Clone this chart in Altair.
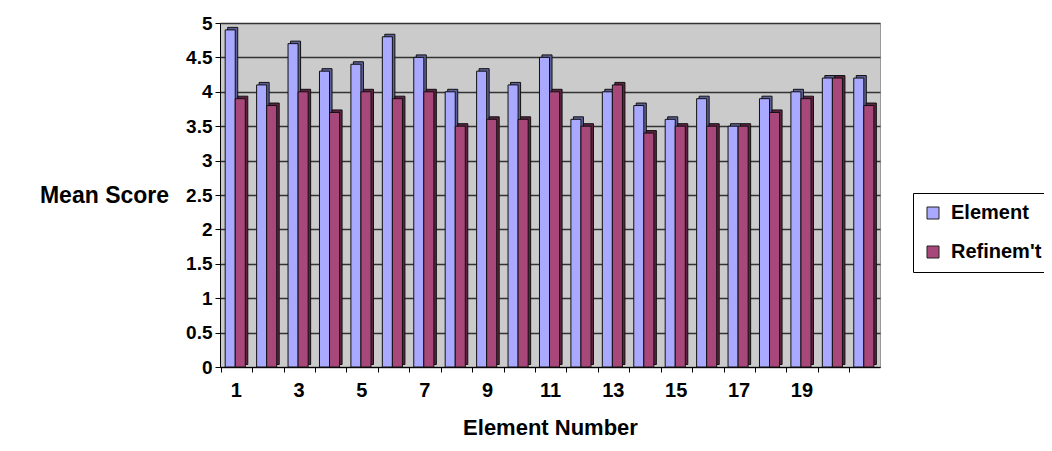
import altair as alt
import pandas as pd

elements = list(range(1, 23))
element_scores = [4.9, 4.1, 4.7, 4.3, 4.4, 4.8, 4.5, 4.0, 4.3, 4.1, 4.5,
                  3.6, 4.0, 3.8, 3.6, 3.9, 3.5, 3.9, 4.0, 4.2, None, 4.2]
refine_scores = [3.9, 3.8, 4.0, 3.7, 4.0, 3.9, 4.0, 3.5, 3.6, 3.6, 4.0,
                 3.5, 4.1, 3.4, 3.5, 3.5, 3.5, 3.7, 3.9, 4.2, None, 3.8]
series_names = ["Element", "Refinem't"]
series_colors = ["#A9A9FF", "#A8487A"]
side_colors = ["#5E6199", "#5C2240"]

rows = []
for e, a, b in zip(elements, element_scores, refine_scores):
    rows.append({"num": e, "series": series_names[0], "score": a})
    rows.append({"num": e, "series": series_names[1], "score": b})
df = pd.DataFrame(rows)

FONT = "Liberation Sans"

x_enc = alt.X("num:O", title="Element Number",
              scale=alt.Scale(paddingInner=0.33, paddingOuter=0.165),
              axis=alt.Axis(labelAngle=0, tickOffset=-15, labelOffset=15,
                            labelExpr="datum.value % 2 == 1 && datum.value < 20 ? datum.label : ''",
                            labelFont=FONT, labelFontSize=20, labelFontWeight="bold",
                            labelColor="#000", labelPadding=8, tickSize=5,
                            tickColor="#000", domainColor="#000",
                            titleFont=FONT, titleFontSize=22, titleFontWeight="bold",
                            titleColor="#000", titlePadding=17, grid=False))
y_enc = alt.Y("score:Q", title="Mean Score",
              scale=alt.Scale(domain=[0, 5]),
              axis=alt.Axis(values=[0, 0.5, 1, 1.5, 2, 2.5, 3, 3.5, 4, 4.5, 5],
                            format="~g", labelFont=FONT, labelFontSize=19,
                            labelFontWeight="bold", labelColor="#000",
                            labelPadding=3, tickSize=5, tickColor="#000",
                            domainColor="#000", grid=True, gridColor="#333333",
                            gridWidth=1.3,
                            titleFont=FONT, titleFontSize=23, titleFontWeight="bold",
                            titleColor="#000", titleAngle=0, titleAlign="center",
                            titleBaseline="middle", titleX=-116, titleY=172))

sides = alt.Chart(df).mark_bar(yOffset=-2.5, stroke="#111111",
                                strokeWidth=1).encode(
    x=x_enc,
    xOffset=alt.XOffset("series:N", sort=series_names,
                        scale=alt.Scale(range=[2.5, 22.6])),
    y=y_enc,
    color=alt.Color("series:N", sort=series_names,
                    scale=alt.Scale(domain=series_names, range=side_colors),
                    legend=None),
)

fronts = alt.Chart(df).mark_bar(stroke="#111111", strokeWidth=1).encode(
    x=x_enc,
    xOffset=alt.XOffset("series:N", sort=series_names,
                        scale=alt.Scale(range=[0, 20.1])),
    y=y_enc,
    color=alt.Color("series:N", sort=series_names,
                    scale=alt.Scale(domain=series_names, range=series_colors),
                    legend=alt.Legend(title=None, orient="none", legendX=693,
                                      legendY=170, symbolType="square",
                                      symbolSize=144, symbolStrokeColor="#222",
                                      symbolStrokeWidth=1, labelFont=FONT,
                                      labelFontSize=20, labelFontWeight="bold",
                                      labelColor="#000", rowPadding=19,
                                      labelOffset=8, padding=10,
                                      strokeColor="#000",
                                      fillColor="#FFFFFF", symbolOffset=0)),
)

chart = alt.layer(sides, fronts).resolve_scale(
    color="independent", xOffset="independent"
).properties(
    width=660, height=344,
    padding={"left": 212, "top": 15, "right": 164, "bottom": 76},
    autosize=alt.AutoSizeParams(type="none"),
    background="#FFFFFF",
).configure_view(
    fill="#CBCBCB", stroke="#999999", strokeWidth=1
)

chart.save("out.html", embed_options={"renderer": "svg", "actions": False})
